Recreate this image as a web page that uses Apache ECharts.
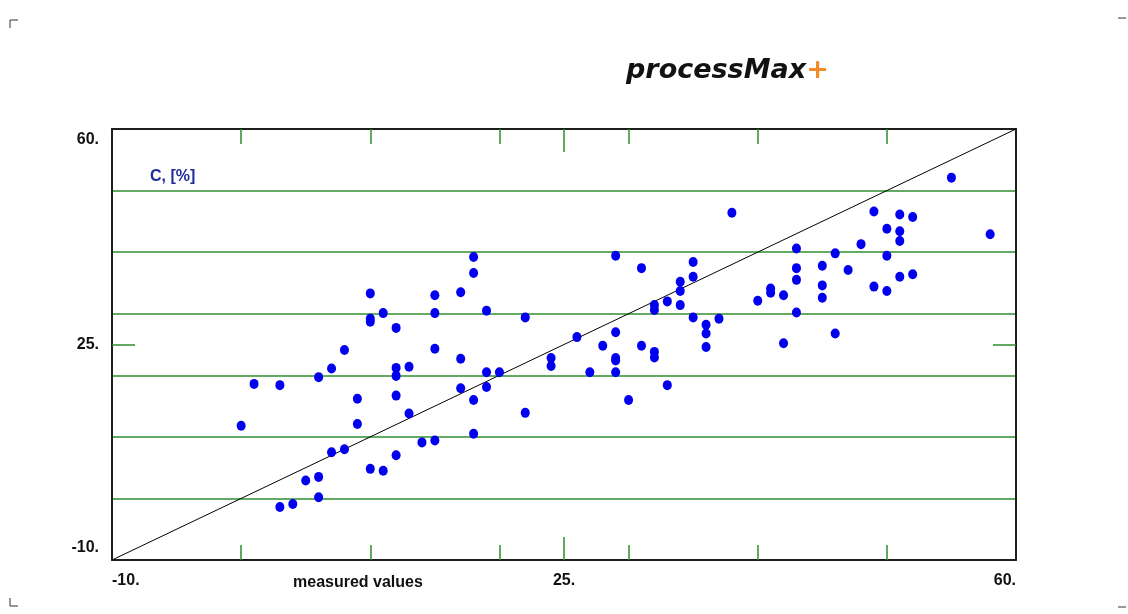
<!DOCTYPE html>
<html>
<head>
<meta charset="utf-8">
<title>processMax+</title>
<script src="https://cdn.jsdelivr.net/npm/echarts@6/dist/echarts.min.js"></script>
<style>
  html, body { margin: 0; padding: 0; background: #ffffff; }
  #chart { width: 1128px; height: 614px; }
</style>
</head>
<body>
<div id="chart"></div>
<script>
// Measured values (x) of each sample
const measured = [
  0, 1, 3, 3, 4, 5, 6, 6, 6, 7, 7, 8, 8, 9, 9,
  10, 10, 10, 10, 11, 11, 12, 12, 12, 12, 12, 13, 13, 14,
  15, 15, 15, 15, 17, 17, 17, 18, 18, 18, 18, 19, 19, 19, 20,
  22, 22, 24, 24, 26, 27, 28, 29, 29, 29, 29, 29, 30, 31, 31,
  32, 32, 32, 32, 33, 33, 34, 34, 34, 35, 35, 35, 36, 36, 36, 37, 38,
  40, 41, 41, 42, 42, 43, 43, 43, 43, 45, 45, 45, 46, 46, 47, 48,
  49, 49, 50, 50, 50, 51, 51, 51, 51, 52, 52, 55, 58
];
// Calculated C, [%] for the same samples
const cPercent = [
  11.8, 18.6, 18.4, -1.4, -0.9, 2.9, 19.7, 3.5, 0.2, 21.1, 7.5, 24.1, 8.0, 16.2, 12.1,
  33.3, 29.2, 28.7, 4.8, 30.1, 4.5, 27.7, 21.2, 19.9, 16.7, 7.0, 21.4, 13.8, 9.1,
  33.0, 30.1, 24.3, 9.4, 33.5, 22.7, 17.9, 39.2, 36.6, 16.0, 10.5, 30.5, 20.5, 18.1, 20.5,
  29.4, 13.9, 22.8, 21.5, 26.2, 20.5, 24.8, 39.4, 27.0, 22.8, 22.4, 20.5, 16.0, 37.4, 24.8,
  31.4, 30.6, 23.8, 22.9, 32.0, 18.4, 35.2, 33.7, 31.4, 38.4, 36.0, 29.4, 28.2, 26.8, 24.6, 29.2, 46.4,
  32.1, 34.1, 33.4, 33.0, 25.2, 40.6, 37.4, 35.5, 30.2, 37.8, 34.6, 32.6, 39.8, 26.8, 37.1, 41.3,
  46.6, 34.4, 43.8, 39.4, 33.7, 46.1, 43.4, 41.8, 36.0, 45.7, 36.4, 52.1, 42.9
];

const axisRange = [-10, 60];          // both axes share this range
const minorTicks = [0, 10, 20, 30, 40, 50];
const midTick = [25];
const labelValues = [-10, 25, 60];

const GREEN = '#2f8f2f';
const FRAME = '#1e1e1e';
const labelFont = { fontFamily: 'Liberation Sans, Arial, sans-serif', fontWeight: 'bold', fontSize: 16, color: '#111' };

const points = measured.map((m, i) => [m, cPercent[i]]);
const identity = axisRange.map(v => [v, v]);
const fmt = v => v + '.';

// every axis spans the same range and stays on the plot edge
function baseAxis(extra) {
  const ax = Object.assign({
    type: 'value', min: axisRange[0], max: axisRange[1], interval: 10,
    axisLine: { show: false }, axisTick: { show: false },
    axisLabel: { show: false }, splitLine: { show: false }
  }, extra);
  ax.axisLine = Object.assign({}, ax.axisLine, { onZero: false });
  return ax;
}

function tickStyle(values, length) {
  return { show: true, inside: true, length: length, customValues: values, lineStyle: { color: GREEN, width: 1.5 } };
}

const chart = echarts.init(document.getElementById('chart'), null, { renderer: 'canvas' });

chart.setOption({
  animation: false,
  backgroundColor: '#ffffff',
  title: [
    {
      text: '{a|processMax}{b|+}',
      left: 621, top: 52,
      textStyle: {
        rich: {
          a: { fontFamily: 'DejaVu Sans, sans-serif', fontStyle: 'italic', fontWeight: 'bold', fontSize: 27, color: '#111' },
          b: { fontFamily: 'DejaVu Sans, sans-serif', fontStyle: 'italic', fontWeight: 'bold', fontSize: 27, color: '#f28a26' }
        }
      }
    },
    {
      text: 'measured values',
      left: 288, top: 570,
      textStyle: Object.assign({}, labelFont)
    },
    {
      text: 'C, [%]',
      left: 145, top: 164,
      textStyle: Object.assign({}, labelFont, { color: '#1f2a9c' })
    }
  ],
  grid: { left: 112, right: 112, top: 129, bottom: 54, outerBoundsMode: 'none' },
  xAxis: [
    baseAxis({
      position: 'bottom',
      axisLine: { show: true, lineStyle: { color: FRAME, width: 2 } },
      axisTick: tickStyle(minorTicks, 15),
      axisLabel: Object.assign({ show: true, customValues: labelValues, formatter: fmt, margin: 13,
        alignMinLabel: 'left', alignMaxLabel: 'right' }, labelFont)
    }),
    baseAxis({ position: 'bottom', axisTick: tickStyle(midTick, 23) }),
    baseAxis({
      position: 'top',
      axisLine: { show: true, lineStyle: { color: FRAME, width: 2 } },
      axisTick: tickStyle(minorTicks, 15)
    }),
    baseAxis({ position: 'top', axisTick: tickStyle(midTick, 23) })
  ],
  yAxis: [
    baseAxis({
      position: 'left',
      axisLine: { show: true, lineStyle: { color: FRAME, width: 2 } },
      axisLabel: Object.assign({ show: true, customValues: labelValues, formatter: fmt, margin: 13,
        verticalAlignMinLabel: 'bottom', verticalAlignMaxLabel: 'top',
        padding: [3, 0, 4, 0] }, labelFont),
      splitLine: { show: true, showMinLine: false, showMaxLine: false, lineStyle: { color: GREEN, width: 1.5 } }
    }),
    baseAxis({ position: 'left', axisTick: tickStyle(midTick, 23) }),
    baseAxis({
      position: 'right',
      axisLine: { show: true, lineStyle: { color: FRAME, width: 2 } },
      axisTick: tickStyle(midTick, 23)
    })
  ],
  series: [
    {
      type: 'line',
      data: identity,
      xAxisIndex: 0, yAxisIndex: 0,
      symbol: 'none',
      silent: true,
      lineStyle: { color: '#000000', width: 1 },
      z: 2
    },
    {
      type: 'scatter',
      data: points,
      xAxisIndex: 0, yAxisIndex: 0,
      symbol: 'circle',
      symbolSize: [9, 10],
      itemStyle: { color: '#0000ee', opacity: 1 },
      z: 3
    }
  ],
  graphic: [
    { type: 'polyline', shape: { points: [[10, 28], [10, 20], [18, 20]] }, style: { stroke: '#333', lineWidth: 1, fill: null } },
    { type: 'polyline', shape: { points: [[1118, 18], [1126, 18]] }, style: { stroke: '#333', lineWidth: 1, fill: null } },
    { type: 'polyline', shape: { points: [[10, 598], [10, 606], [18, 606]] }, style: { stroke: '#333', lineWidth: 1, fill: null } },
    { type: 'polyline', shape: { points: [[1118, 607], [1126, 607]] }, style: { stroke: '#333', lineWidth: 1, fill: null } }
  ]
});
</script>
</body>
</html>
